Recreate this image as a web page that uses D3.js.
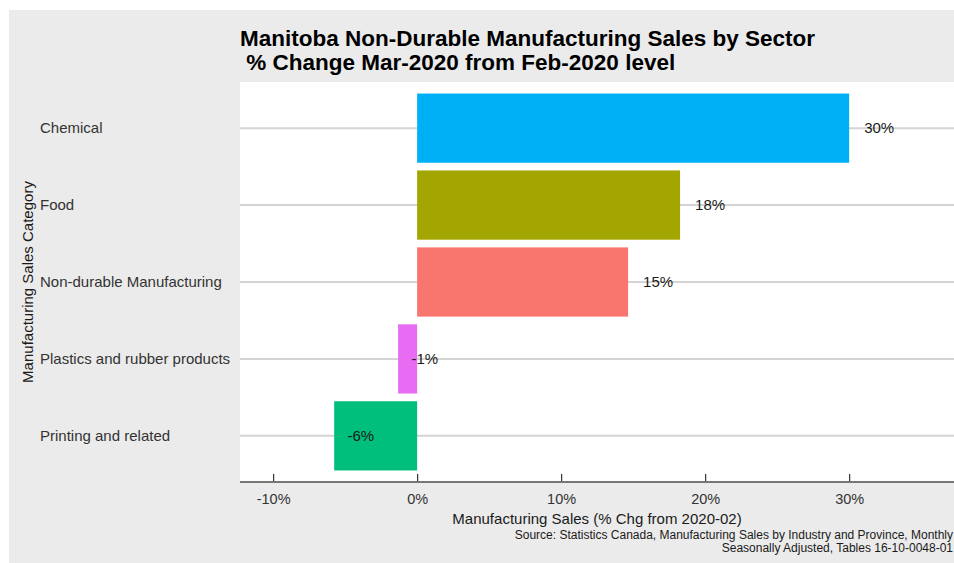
<!DOCTYPE html>
<html>
<head>
<meta charset="utf-8">
<script src="https://cdn.jsdelivr.net/npm/d3@7"></script>
<style>
  html, body { margin: 0; padding: 0; background: #ffffff; }
  svg { display: block; font-family: "Liberation Sans", Arial, sans-serif; }
</style>
</head>
<body>
<svg id="chart" width="954" height="563"></svg>
<script>
// Sectors, top to bottom
const categories = [
  "Chemical",
  "Food",
  "Non-durable Manufacturing",
  "Plastics and rubber products",
  "Printing and related"
];
// % change, Mar-2020 vs Feb-2020
const pctChange = [30.0, 18.26, 14.65, -1.32, -5.76];
const barColors = ["#00B0F6", "#A3A500", "#F8766D", "#E76BF3", "#00BF7D"];
const tickValues = [-10, 0, 10, 20, 30];

const titleLines = [
  "Manitoba Non-Durable Manufacturing Sales by Sector",
  " % Change Mar-2020 from Feb-2020 level"
];
const xTitle = "Manufacturing Sales (% Chg from 2020-02)";
const yTitle = "Manufacturing Sales Category";
const captionLines = [
  "Source: Statistics Canada, Manufacturing Sales by Industry and Province, Monthly",
  "Seasonally Adjusted, Tables 16-10-0048-01"
];

const data = categories.map((c, i) => ({ cat: c, value: pctChange[i], color: barColors[i] }));

const svg = d3.select("#chart");
const W = 954, H = 563;
const panel = { left: 240, right: 956, top: 82, bottom: 482 };

// plot background
svg.append("rect").attr("x", 9).attr("y", 10).attr("width", W - 9).attr("height", H - 10)
  .attr("fill", "#ebebeb");
svg.append("rect").attr("x", panel.left).attr("y", panel.top)
  .attr("width", panel.right - panel.left).attr("height", panel.bottom - panel.top)
  .attr("fill", "#ffffff");

const x = d3.scaleLinear().domain([-12.3, 37.42]).range([panel.left, panel.right]);
const y = d3.scaleBand().domain(categories).range([panel.top, panel.bottom])
  .paddingInner(0.1).paddingOuter(0.15);

// horizontal grid lines at each category
svg.append("g").selectAll("line").data(categories).join("line")
  .attr("x1", panel.left).attr("x2", panel.right)
  .attr("y1", d => y(d) + y.bandwidth() / 2).attr("y2", d => y(d) + y.bandwidth() / 2)
  .attr("stroke", "#d4d4d4").attr("stroke-width", 2);

// bars
svg.append("g").selectAll("rect").data(data).join("rect")
  .attr("x", d => x(Math.min(0, d.value)))
  .attr("width", d => Math.abs(x(d.value) - x(0)))
  .attr("y", d => y(d.cat))
  .attr("height", y.bandwidth())
  .attr("fill", d => d.color);

// value labels (rounded percent), placed past the bar end by half their own width
const fmt = v => Math.round(v) + "%";
svg.append("g").selectAll("text").data(data).join("text")
  .attr("x", d => x(d.value))
  .attr("y", d => y(d.cat) + y.bandwidth() / 2)
  .attr("dy", "0.35em")
  .attr("font-size", 15)
  .attr("fill", "#1a1a1a")
  .text(d => fmt(d.value))
  .each(function () {
    const w = this.getComputedTextLength();
    d3.select(this).attr("dx", w * 0.5);
  });

// x axis: line plus inward ticks
const xAxis = d3.axisBottom(x).tickValues(tickValues).tickFormat(d => d + "%")
  .tickSize(0).tickPadding(0);
const gx = svg.append("g").attr("transform", `translate(0,${panel.bottom})`).call(xAxis);
gx.select(".domain").remove();
gx.selectAll(".tick text").attr("font-size", 14.5).attr("fill", "#333333")
  .attr("font-family", "Liberation Sans, Arial, sans-serif").attr("dy", "1.55em");
gx.selectAll(".tick").append("line")
  .attr("y1", -8).attr("y2", 0).attr("stroke", "#333333").attr("stroke-width", 1.2);
svg.append("line").attr("x1", panel.left).attr("x2", panel.right)
  .attr("y1", panel.bottom).attr("y2", panel.bottom)
  .attr("stroke", "#777777").attr("stroke-width", 2.2);

// category labels, left aligned
svg.append("g").selectAll("text").data(categories).join("text")
  .attr("x", 40)
  .attr("y", d => y(d) + y.bandwidth() / 2)
  .attr("dy", "0.35em")
  .attr("font-size", 15)
  .attr("fill", "#333333")
  .text(d => d);

// axis titles
svg.append("text")
  .attr("x", (panel.left + panel.right) / 2 - 1).attr("y", 524)
  .attr("text-anchor", "middle").attr("font-size", 15).attr("fill", "#1a1a1a")
  .text(xTitle);
svg.append("text")
  .attr("transform", `translate(33,${(panel.top + panel.bottom) / 2}) rotate(-90)`)
  .attr("text-anchor", "middle").attr("font-size", 15).attr("fill", "#1a1a1a")
  .text(yTitle);

// title
svg.append("g").selectAll("text").data(titleLines).join("text")
  .attr("x", panel.left)
  .attr("y", (d, i) => 46 + i * 24)
  .attr("font-size", 22.5).attr("font-weight", "bold").attr("fill", "#000000")
  .attr("xml:space", "preserve").style("white-space", "pre")
  .text(d => d);

// caption
svg.append("g").selectAll("text").data(captionLines).join("text")
  .attr("x", 953)
  .attr("y", (d, i) => 539 + i * 13)
  .attr("text-anchor", "end")
  .attr("font-size", 12).attr("fill", "#1a1a1a")
  .text(d => d);
</script>
</body>
</html>
